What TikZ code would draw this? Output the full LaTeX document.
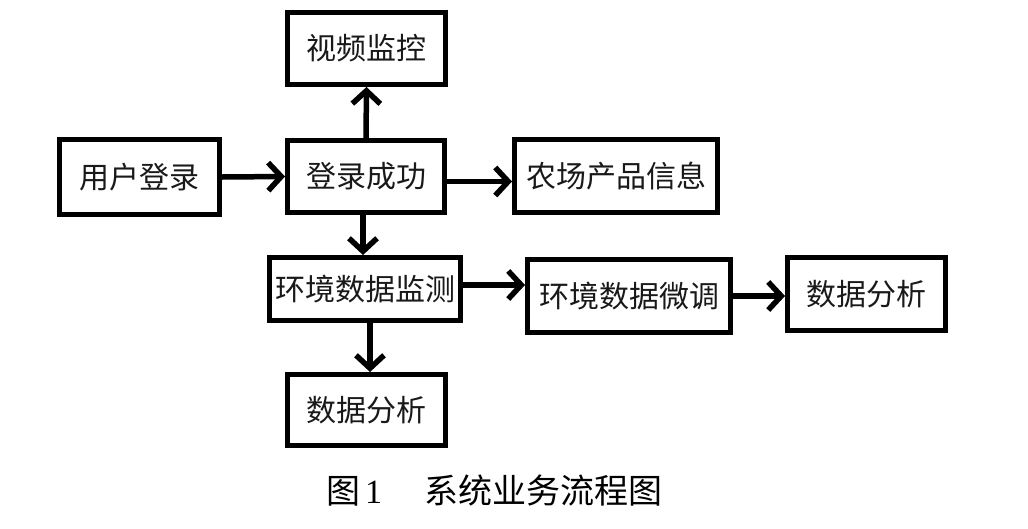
\documentclass[tikz,border=0pt]{standalone}
\usepackage{fontspec}
\newfontfamily\cjk{Noto Sans CJK SC}
\newfontfamily\serifnum{Liberation Serif}
\usetikzlibrary{arrows.meta}
\begin{document}
\begin{tikzpicture}[x=1pt,y=-1pt,
  box/.style={draw=black,line width=5pt,rectangle,inner sep=0pt,
    font=\cjk\fontsize{30pt}{34pt}\selectfont,text=black!90},
  flow/.style={line width=5.5pt,-{Straight Barb[length=13pt,width=28pt]}},
  captext/.style={font=\cjk\fontsize{34pt}{38pt}\selectfont,inner sep=0pt,text=black}]
\useasboundingbox (0,0) rectangle (1028,528);
\fill[white] (0,0) rectangle (1028,528);
\node[box,minimum width=158pt,minimum height=72pt] (vid) at (366.5,48.5) {视频监控};
\node[box,minimum width=160pt,minimum height=75pt] (login) at (139.5,177) {用户登录};
\node[box,minimum width=157pt,minimum height=72pt] (ok) at (366,176.5) {登录成功};
\node[box,minimum width=203pt,minimum height=73pt] (farm) at (616,176) {农场产品信息};
\node[box,minimum width=191pt,minimum height=63pt] (env) at (365,289) {环境数据监测};
\node[box,minimum width=203pt,minimum height=73pt] (tune) at (629,296) {环境数据微调};
\node[box,minimum width=158pt,minimum height=73pt] (ana2) at (866.5,294) {数据分析};
\node[box,minimum width=158pt,minimum height=71pt] (ana1) at (366.5,410) {数据分析};
\draw[flow] (login.east) -- (ok.west);
\draw[flow] (ok.north) -- (vid.south);
\draw[flow] ([yshift=-5pt]ok.east) -- ([yshift=-5pt]ok.east -| farm.west);
\draw[flow] ([xshift=-3pt]ok.south) -- ([xshift=-3pt]ok.south |- env.north);
\draw[flow] ([xshift=5pt]env.south) -- ([xshift=5pt]env.south |- ana1.north);
\draw[flow] ([yshift=4pt]env.east) -- ([yshift=4pt]env.east -| tune.west);
\draw[flow] (tune.east) -- (tune.east -| ana2.west);
\node[captext,anchor=west] (c1) at (326,491) {图\hspace{5pt}{\serifnum 1}};
\node[captext,anchor=west] (c2) at (424,491) {系统业务流程图};
\end{tikzpicture}
\end{document}
